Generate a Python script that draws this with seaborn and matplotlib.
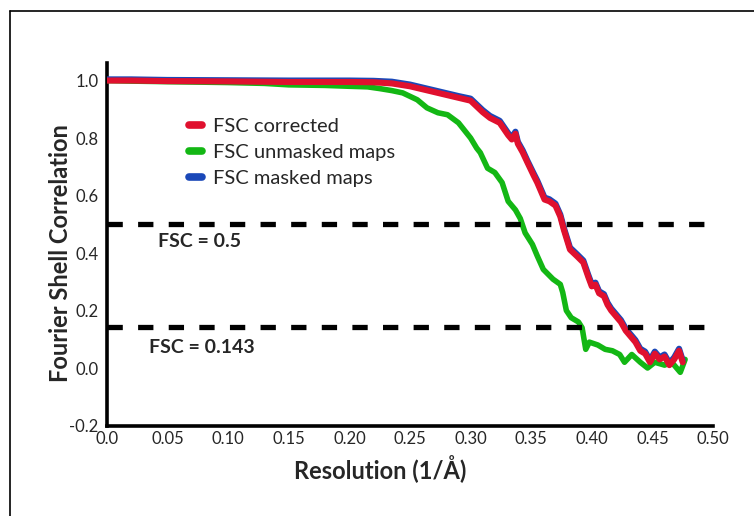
import matplotlib
matplotlib.use("Agg")
import matplotlib.pyplot as plt
import seaborn as sns
import pandas as pd
from matplotlib.lines import Line2D

# ---- data ----
res_corr = [0.0, 0.02, 0.05, 0.10, 0.15, 0.20, 0.22, 0.235, 0.25, 0.26, 0.27, 0.28, 0.29, 0.30,
            0.305, 0.31, 0.316, 0.324, 0.331, 0.334, 0.337, 0.339, 0.343, 0.347, 0.352, 0.355,
            0.361, 0.365, 0.370, 0.374, 0.377, 0.382, 0.388, 0.393, 0.397, 0.400, 0.403, 0.406,
            0.410, 0.413, 0.416, 0.420, 0.424, 0.428, 0.432, 0.436, 0.440, 0.444, 0.448, 0.452,
            0.456, 0.460, 0.464, 0.468, 0.472, 0.475]
fsc_corrected = [1.0, 1.0, 0.998, 0.997, 0.995, 0.995, 0.994, 0.99, 0.98, 0.97, 0.96, 0.95, 0.94, 0.93,
                 0.91, 0.89, 0.87, 0.853, 0.81, 0.795, 0.815, 0.78, 0.75, 0.714, 0.67, 0.645,
                 0.586, 0.58, 0.565, 0.527, 0.48, 0.412, 0.388, 0.367, 0.318, 0.284, 0.290, 0.26,
                 0.25, 0.22, 0.20, 0.18, 0.16, 0.13, 0.11, 0.09, 0.06, 0.05, 0.02, 0.05,
                 0.03, 0.04, 0.01, 0.03, 0.06, 0.02]
fsc_masked = [1.004, 1.004, 1.002, 1.001, 1.0, 1.0, 0.999, 0.996, 0.986, 0.976, 0.966, 0.956, 0.946, 0.937,
              0.917, 0.897, 0.877, 0.86, 0.817, 0.802, 0.822, 0.787, 0.757, 0.72, 0.677, 0.652,
              0.593, 0.587, 0.572, 0.534, 0.487, 0.419, 0.395, 0.374, 0.325, 0.291, 0.297, 0.267,
              0.257, 0.227, 0.207, 0.187, 0.167, 0.137, 0.117, 0.097, 0.067, 0.057, 0.027, 0.057,
              0.037, 0.047, 0.017, 0.037, 0.067, 0.027]

res_unmasked = [0.0, 0.02, 0.05, 0.10, 0.13, 0.15, 0.18, 0.20, 0.215, 0.225, 0.235, 0.244, 0.25, 0.256,
                0.264, 0.273, 0.281, 0.290, 0.300, 0.305, 0.308, 0.314, 0.320, 0.326, 0.331, 0.337,
                0.341, 0.345, 0.351, 0.355, 0.360, 0.368, 0.374, 0.376, 0.379, 0.383, 0.389, 0.392,
                0.395, 0.398, 0.405, 0.411, 0.417, 0.423, 0.427, 0.433, 0.440, 0.446, 0.452, 0.460,
                0.466, 0.473, 0.477]
fsc_unmasked = [1.0, 0.998, 0.996, 0.993, 0.99, 0.985, 0.983, 0.98, 0.978, 0.972, 0.965, 0.957, 0.945, 0.933,
                0.905, 0.888, 0.881, 0.853, 0.80, 0.765, 0.749, 0.695, 0.68, 0.645, 0.58, 0.55,
                0.52, 0.47, 0.43, 0.39, 0.343, 0.309, 0.291, 0.263, 0.20, 0.175, 0.16, 0.14,
                0.065, 0.09, 0.08, 0.065, 0.06, 0.047, 0.02, 0.047, 0.02, 0.0, 0.02, 0.01,
                0.02, -0.015, 0.03]

thresholds = [0.5, 0.143]
threshold_labels = ["FSC = 0.5", "FSC = 0.143"]
x_ticks = [0.0, 0.05, 0.10, 0.15, 0.20, 0.25, 0.30, 0.35, 0.40, 0.45, 0.50]
x_ticklabels = ["0.0", "0.05", "0.10", "0.15", "0.20", "0.25", "0.30", "0.35", "0.40", "0.45", "0.50"]
y_ticks = [-0.2, 0.0, 0.2, 0.4, 0.6, 0.8, 1.0]
y_ticklabels = ["-0.2", "0.0", "0.2", "0.4", "0.6", "0.8", "1.0"]

RED = "#e0102e"
GREEN = "#13b714"
BLUE = "#1a48b8"

sns.set_style("white")
plt.rcParams["font.family"] = ["Lato", "DejaVu Sans"]

fig = plt.figure(figsize=(7.54, 5.16), dpi=100)
ax = fig.add_axes([107/754, 1-425.5/516, (713-107)/754, (425.5-63)/516])

df_m = pd.DataFrame({"res": res_corr, "fsc": fsc_masked})
df_c = pd.DataFrame({"res": res_corr, "fsc": fsc_corrected})
df_u = pd.DataFrame({"res": res_unmasked, "fsc": fsc_unmasked})

sns.lineplot(data=df_u, x="res", y="fsc", ax=ax, color=GREEN, lw=4.0, sort=False, zorder=3)
sns.lineplot(data=df_m, x="res", y="fsc", ax=ax, color=BLUE, lw=4.4, sort=False, zorder=4)
sns.lineplot(data=df_c, x="res", y="fsc", ax=ax, color=RED, lw=4.4, sort=False, zorder=5)

for t in thresholds:
    ax.axhline(t, color="black", lw=3.8, dashes=(2.9, 2.9), zorder=6, xmin=0, xmax=1)

ax.text(0.042, 0.44, threshold_labels[0], fontsize=14, fontweight="bold", va="center", ha="left")
ax.text(0.035, 0.072, threshold_labels[1], fontsize=14, fontweight="bold", va="center", ha="left")

ax.set_xlim(0, 0.5)
ax.set_ylim(-0.2, 1.061)
ax.set_xticks(x_ticks)
ax.set_xticklabels(x_ticklabels)
ax.set_yticks(y_ticks)
ax.set_yticklabels(y_ticklabels)
ax.tick_params(axis="x", direction="in", length=6, width=2.4, pad=4, labelsize=12, color="black")
ax.tick_params(axis="y", direction="in", length=7, width=2.4, pad=6, labelsize=12, color="black")
for s in ["top", "right"]:
    ax.spines[s].set_visible(False)
for s in ["left", "bottom"]:
    ax.spines[s].set_linewidth(2.6)
    ax.spines[s].set_color("black")

ax.set_xlabel("Resolution (1/\u00c5)", fontsize=17, fontweight="bold")
ax.set_ylabel("Fourier Shell Correlation", fontsize=17, fontweight="bold")
ax.xaxis.set_label_coords(0.45, -0.082)
ax.yaxis.set_label_coords(-0.058, 0.476)

handles = [Line2D([], [], color=RED, lw=5.5), Line2D([], [], color=GREEN, lw=5.5),
           Line2D([], [], color=BLUE, lw=5.5)]
labels = ["FSC corrected", "FSC unmasked maps", "FSC masked maps"]
ax.legend(handles, labels, loc="upper left", bbox_to_anchor=(0.122, 0.872), frameon=False,
          fontsize=14.5, handlelength=0.65, handletextpad=0.55, labelspacing=0.45, borderaxespad=0)

# figure frame (top and left edges)
fig.add_artist(Line2D([9.5/754, 9.5/754], [0, 1-11/516], color="black", lw=1.2, transform=fig.transFigure))
fig.add_artist(Line2D([9.5/754, 1], [1-11/516, 1-11/516], color="black", lw=1.2, transform=fig.transFigure))

fig.savefig("out.png", dpi=100)
